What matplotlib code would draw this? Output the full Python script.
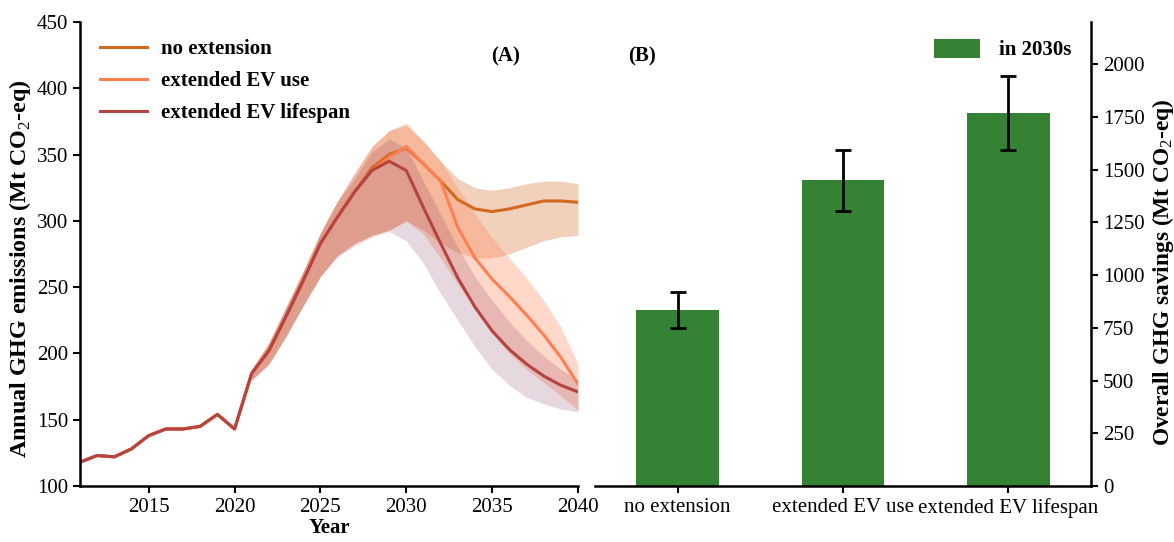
import matplotlib
matplotlib.use("Agg")
import matplotlib.pyplot as plt
import numpy as np

plt.rcParams['font.family'] = ['Liberation Serif', 'DejaVu Serif']
plt.rcParams['mathtext.fontset'] = 'custom'
plt.rcParams['mathtext.rm'] = 'Liberation Serif'
plt.rcParams['mathtext.bf'] = 'Liberation Serif:bold'

# ---------------- data ----------------
years = list(range(2011, 2041))
hist = [118, 123, 122, 128, 138, 143, 143, 145, 154, 143]  # 2011-2020 shared

band_years = list(range(2021, 2041))
no_ext = [185, 202, 228, 255, 283, 303, 322, 340, 350, 355, 343, 330, 316, 309, 307, 309, 312, 315, 315, 314]
no_ext_hi = [188, 208, 235, 262, 291, 315, 336, 356, 368, 372, 360, 345, 332, 325, 323, 325, 328, 330, 330, 328]
no_ext_lo = [180, 192, 213, 236, 258, 274, 283, 289, 293, 300, 293, 283, 276, 272, 272, 275, 280, 285, 288, 289]

ev_use = [185, 202, 228, 255, 283, 303, 322, 338, 348, 356, 343, 330, 295, 272, 256, 243, 229, 214, 197, 177]
ev_use_hi = [188, 208, 235, 262, 291, 315, 336, 356, 368, 374, 360, 345, 325, 305, 287, 272, 257, 240, 220, 192]
ev_use_lo = [180, 192, 213, 236, 258, 274, 283, 289, 293, 300, 290, 272, 252, 234, 215, 200, 188, 178, 168, 157]

ev_life = [185, 202, 228, 255, 283, 303, 322, 338, 345, 338, 310, 283, 257, 235, 217, 203, 192, 183, 176, 171]
ev_life_hi = [188, 208, 235, 262, 291, 315, 332, 352, 362, 355, 330, 305, 280, 258, 240, 224, 210, 198, 188, 180]
ev_life_lo = [180, 192, 213, 236, 258, 273, 281, 288, 292, 285, 268, 245, 225, 205, 188, 176, 167, 162, 158, 156]

scenarios = ["no extension", "extended EV use", "extended EV lifespan"]
savings = [835, 1450, 1770]
sav_lo = [750, 1305, 1595]
sav_hi = [920, 1595, 1945]

# ---------------- style ----------------
c_no = '#D2691E'
c_use = '#FF7F50'
c_life = '#B5433F'
c_life_band = '#8B3A5A'
c_bar = '#358234'

fig = plt.figure(figsize=(11.74, 5.42), dpi=100)
axA = fig.add_axes([80/1174, 56/542, 498/1174, 464/542])
axB = fig.add_axes([595/1174, 56/542, 496/1174, 464/542])

fs = 15

# ---- panel A ----
full_no = hist + no_ext
full_use = hist + ev_use
full_life = hist + ev_life

axA.fill_between(band_years, no_ext_lo, no_ext_hi, color=c_no, alpha=0.3, lw=0)
axA.fill_between(band_years, ev_use_lo, ev_use_hi, color=c_use, alpha=0.3, lw=0)
axA.fill_between(band_years, ev_life_lo, ev_life_hi, color=c_life_band, alpha=0.2, lw=0)

axA.plot(years, full_no, color=c_no, lw=2.2, label='no extension')
axA.plot(years, full_use, color=c_use, lw=2.2, label='extended EV use')
axA.plot(years, full_life, color=c_life, lw=2.2, label='extended EV lifespan')

axA.set_xlim(2011, 2040)
axA.set_ylim(100, 450)
axA.set_xticks([2015, 2020, 2025, 2030, 2035, 2040])
axA.set_yticks(np.arange(100, 451, 50))
axA.spines['top'].set_visible(False)
axA.spines['right'].set_visible(False)
for s in ['left', 'bottom']:
    axA.spines[s].set_linewidth(1.8)
axA.tick_params(axis='both', labelsize=fs, width=1.5, length=5, direction='out')
axA.set_xlabel('Year', fontsize=fs, fontweight='bold', labelpad=1)
axA.set_ylabel(r'Annual GHG emissions (Mt CO$_2$-eq)', fontsize=17.3, fontweight='bold',
               labelpad=3, y=0.468)
axA.legend(loc='upper left', frameon=False, prop={'size': fs, 'weight': 'bold'},
           handlelength=2.3, handletextpad=0.65, labelspacing=0.58,
           bbox_to_anchor=(0.01, 0.995), borderaxespad=0.3)
axA.text(0.855, 0.925, '(A)', transform=axA.transAxes, fontsize=fs, fontweight='bold',
         ha='center', va='center')

# ---- panel B ----
xpos = np.arange(len(scenarios))
yerr = [np.array(savings) - np.array(sav_lo), np.array(sav_hi) - np.array(savings)]
axB.bar(xpos, savings, width=0.5, color=c_bar, label='in 2030s')
axB.errorbar(xpos, savings, yerr=yerr, fmt='none', ecolor='black', elinewidth=2,
             capsize=6, capthick=2)
axB.set_xlim(-0.5, 2.5)
axB.set_ylim(0, 2200)
axB.set_xticks(xpos)
axB.set_xticklabels(scenarios)
axB.set_yticks(np.arange(0, 2001, 250))
axB.yaxis.tick_right()
axB.yaxis.set_label_position('right')
axB.spines['top'].set_visible(False)
axB.spines['left'].set_visible(False)
for s in ['right', 'bottom']:
    axB.spines[s].set_linewidth(1.8)
axB.tick_params(axis='both', labelsize=fs, width=1.5, length=5, direction='out')
axB.set_ylabel(r'Overall GHG savings (Mt CO$_2$-eq)', fontsize=16.8, fontweight='bold',
               rotation=90, labelpad=4, y=0.461)
axB.legend(loc='upper right', frameon=False, prop={'size': fs, 'weight': 'bold'},
           handlelength=2.2, handleheight=1.0, handletextpad=0.9,
           bbox_to_anchor=(0.99, 0.995), borderaxespad=0.3)
axB.text(0.095, 0.925, '(B)', transform=axB.transAxes, fontsize=fs, fontweight='bold',
         ha='center', va='center')

fig.savefig('out.png', dpi=100)
